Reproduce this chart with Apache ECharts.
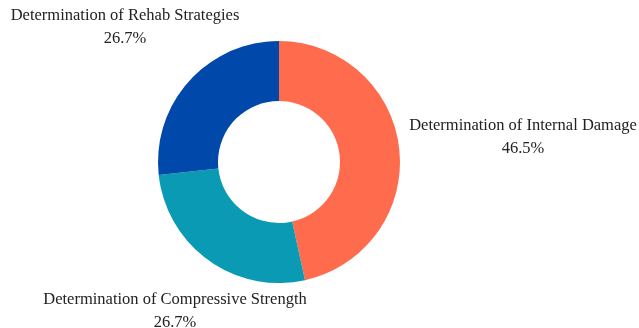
<!DOCTYPE html>
<html>
<head>
<meta charset="utf-8">
<script src="https://cdn.jsdelivr.net/npm/echarts@6/dist/echarts.min.js"></script>
<style>
  html, body { margin: 0; padding: 0; background: #fff; }
  #chart { width: 639px; height: 328px; }
</style>
</head>
<body>
<div id="chart"></div>
<script>
// Share of studies by purpose of testing (%)
const categories = [
  'Determination of Internal Damage',
  'Determination of Compressive Strength',
  'Determination of Rehab Strategies'
];
const shares = [46.5, 26.7, 26.7];
const colors = ['#FF6B4D', '#0A9AB4', '#0049AB'];

// Where each slice's caption sits (centre of the text block)
const labelSpots = [
  { x: 523, y: 137 },
  { x: 175, y: 311 },
  { x: 125, y: 27 }
];

const chart = echarts.init(document.getElementById('chart'), null, { renderer: 'canvas' });

chart.setOption({
  backgroundColor: '#ffffff',
  animation: false,
  series: [{
    type: 'pie',
    center: [279, 162],
    radius: [61, 121],
    startAngle: 90,
    clockwise: true,
    avoidLabelOverlap: false,
    itemStyle: { borderWidth: 0 },
    label: {
      show: true,
      position: 'outside',
      formatter: '{b}\n{c}%',
      fontFamily: 'Liberation Serif',
      fontSize: 16.5,
      lineHeight: 23,
      color: '#222222',
      align: 'center'
    },
    labelLine: { show: false },
    labelLayout: function (params) {
      const p = labelSpots[params.dataIndex];
      return { x: p.x, y: p.y, align: 'center', verticalAlign: 'middle' };
    },
    emphasis: { disabled: true },
    data: categories.map((name, i) => ({
      name: name,
      value: shares[i],
      itemStyle: { color: colors[i] }
    }))
  }]
});
</script>
</body>
</html>
